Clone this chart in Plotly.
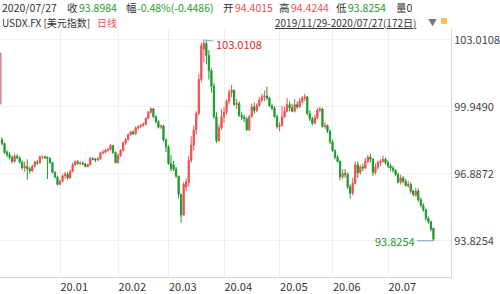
import plotly.graph_objects as go

# ---- data (USDX daily, 2019/11/29 - 2020/07/27, 172 bars) ----
dec_o = [98.45,98.27,97.86,97.76,97.64,97.45,97.70,97.62,97.42,97.16,97.22,97.12,97.02,97.22,97.42,97.38,97.66,97.67,97.65,97.60,97.40,96.96,96.74]
dec_h = [98.56,98.32,97.98,97.88,97.72,97.80,97.78,97.68,97.50,97.45,97.55,97.20,97.30,97.48,97.52,97.72,97.74,97.72,97.68,97.64,97.44,97.00,96.80]
dec_l = [98.18,97.80,97.64,97.55,97.36,97.40,97.55,97.35,97.08,96.98,96.62,96.92,96.98,97.18,97.30,97.36,97.56,97.56,96.65,97.34,96.90,96.68,96.36]
dec_c = [98.27,97.86,97.76,97.64,97.45,97.70,97.62,97.42,97.16,97.22,97.12,97.02,97.22,97.42,97.38,97.66,97.67,97.62,97.60,97.40,96.96,96.74,96.40]

jan_o = [96.40,96.55,96.80,96.88,96.70,97.00,97.30,97.44,97.36,97.38,97.34,97.22,97.30,97.60,97.56,97.52,97.58,97.84,97.88,97.96,98.00,98.18,97.86]
jan_h = [96.62,96.86,96.98,96.98,97.08,97.40,97.50,97.52,97.46,97.45,97.38,97.36,97.66,97.64,97.62,97.66,97.90,97.98,98.02,98.08,98.25,98.22,97.92]
jan_l = [96.38,96.50,96.66,96.60,96.65,96.95,97.25,97.30,97.28,97.28,97.18,97.18,97.26,97.50,97.42,97.46,97.52,97.78,97.82,97.90,97.96,97.80,97.36]
jan_c = [96.55,96.80,96.88,96.70,97.00,97.30,97.44,97.36,97.38,97.34,97.22,97.30,97.60,97.56,97.52,97.58,97.84,97.88,97.96,98.00,98.18,97.86,97.40]

feb_o = [97.40,97.72,97.96,98.30,98.46,98.68,98.80,98.72,98.98,99.06,99.10,99.16,99.42,99.70,99.86,99.50,99.28,99.02,99.08,98.44]
feb_h = [97.82,98.02,98.36,98.52,98.74,98.86,98.88,99.06,99.12,99.16,99.24,99.48,99.76,99.92,99.90,99.56,99.34,99.14,99.14,98.50]
feb_l = [97.36,97.66,97.92,98.22,98.40,98.62,98.66,98.68,98.90,98.98,99.04,99.10,99.38,99.62,99.45,99.20,98.96,98.94,98.36,97.88]
feb_c = [97.72,97.96,98.30,98.46,98.68,98.80,98.72,98.98,99.06,99.10,99.16,99.42,99.70,99.86,99.50,99.28,99.02,99.08,98.44,98.12]

mar_o = [98.12,97.36,97.30,97.10,96.78,95.95,95.00,96.28,96.50,97.50,98.20,98.90,99.65,101.20,102.60,102.85,102.30,101.60,100.90,99.50,98.40,99.00]
mar_h = [98.20,97.74,97.48,97.20,96.80,95.95,96.50,96.68,97.72,98.60,99.10,99.75,101.45,102.90,103.0108,102.99,102.55,101.70,101.05,99.70,99.15,99.85]
mar_l = [97.30,97.00,97.02,96.70,95.75,94.65,94.95,96.10,96.30,97.40,97.95,98.70,99.55,101.10,102.00,101.90,101.20,100.60,99.40,98.30,98.35,98.90]
mar_c = [97.36,97.12,97.10,96.78,95.95,95.00,96.40,96.52,97.50,98.20,98.90,99.65,101.20,102.75,102.85,102.30,101.60,100.90,99.50,98.40,99.00,99.50]

apr_o = [99.50,99.70,100.20,100.60,100.70,100.05,100.10,99.55,99.48,99.40,98.90,99.50,99.95,99.78,100.02,100.25,100.40,100.45,100.35,100.00,99.88,99.50]
apr_h = [99.95,100.30,100.75,100.95,100.75,100.30,100.20,99.70,99.60,99.50,99.60,100.10,100.15,100.12,100.40,100.55,100.70,100.88,100.40,100.10,99.98,99.60]
apr_l = [99.20,99.60,100.05,100.40,100.00,99.85,99.50,99.35,99.25,98.85,98.85,99.45,99.65,99.70,99.95,100.15,100.20,100.25,99.95,99.80,99.45,98.95]
apr_c = [99.70,100.20,100.60,100.70,100.05,100.10,99.55,99.48,99.40,98.90,99.50,99.95,99.78,100.02,100.25,100.40,100.45,100.35,100.00,99.88,99.50,99.05]

may_o = [99.05,99.10,99.50,99.75,100.05,99.90,99.75,100.05,99.95,100.20,100.35,100.40,99.65,99.40,99.20,99.45,99.80,99.85,99.05,99.10,98.85]
may_h = [99.25,100.00,99.95,100.35,100.20,100.10,100.30,100.20,100.35,100.45,100.55,100.45,99.80,99.50,99.60,99.90,99.95,99.90,99.25,99.15,98.90]
may_l = [98.85,99.05,99.45,99.70,99.75,99.70,99.70,99.85,99.90,100.10,100.20,99.55,99.30,99.10,99.15,99.40,99.70,99.00,98.95,98.75,98.25]
may_c = [99.10,99.50,99.75,100.05,99.90,99.75,100.05,99.95,100.20,100.35,100.40,99.65,99.40,99.20,99.45,99.80,99.85,99.05,99.10,98.85,98.35]

jun_o = [98.35,97.95,97.65,97.45,96.75,96.90,96.85,96.30,96.00,96.45,97.30,96.95,97.20,97.15,97.45,97.65,97.55,96.95,97.20,97.40,97.45,97.55]
jun_h = [98.45,98.00,97.75,97.50,97.10,97.10,96.95,96.40,96.70,97.45,97.45,97.30,97.35,97.60,97.75,97.80,97.60,97.35,97.50,97.55,97.72,97.62]
jun_l = [97.90,97.55,97.40,96.60,96.65,96.70,96.20,95.75,95.90,96.40,96.70,96.85,97.00,97.10,97.35,97.40,96.80,96.85,97.10,97.25,97.40,97.30]
jun_c = [97.95,97.65,97.45,96.75,96.90,96.85,96.30,96.00,96.45,97.30,96.95,97.20,97.15,97.45,97.65,97.55,96.95,97.20,97.40,97.45,97.55,97.40]

jul_o = [97.40,97.25,97.15,97.05,96.85,96.50,96.70,96.55,96.35,96.40,96.10,95.90,96.10,95.70,95.45,95.25,94.85,94.70,94.4015]
jul_h = [97.50,97.35,97.25,97.10,96.95,96.85,96.80,96.65,96.55,96.50,96.15,96.25,96.20,95.80,95.55,95.30,94.95,94.75,94.4244]
jul_l = [97.15,97.00,96.95,96.80,96.45,96.40,96.45,96.30,96.25,96.00,95.85,95.85,95.60,95.35,95.15,94.75,94.60,94.25,93.8254]
jul_c = [97.25,97.15,97.05,96.85,96.50,96.70,96.55,96.35,96.40,96.10,95.95,96.10,95.70,95.45,95.25,94.85,94.70,94.35,93.8984]

month_ticks = [23, 46, 66, 88, 110, 131, 153]
month_labels = ["20.01", "20.02", "20.03", "20.04", "20.05", "20.06", "20.07"]
y_ticks = [93.8254, 96.8872, 99.9490, 103.0108]
y_labels = ["93.8254", "96.8872", "99.9490", "103.0108"]
high_val, high_idx = 103.0108, 80
low_val, low_idx = 93.8254, 171

opens = dec_o + jan_o + feb_o + mar_o + apr_o + may_o + jun_o + jul_o
highs = dec_h + jan_h + feb_h + mar_h + apr_h + may_h + jun_h + jul_h
lows = dec_l + jan_l + feb_l + mar_l + apr_l + may_l + jun_l + jul_l
closes = dec_c + jan_c + feb_c + mar_c + apr_c + may_c + jun_c + jul_c
xs = list(range(len(closes)))

RED = "#ee4f4f"
GREEN = "#1f9a2c"
TXT = "#333333"
FONT = "Noto Sans CJK SC"

W, H = 500, 294
ML, MR, MT, MB = 0, 49, 29, 15
PW, PH = W - ML - MR, H - MT - MB


def px(xp):
    return (xp - ML) / PW


def py(yp):
    return (H - MB - yp) / PH


fig = go.Figure()
fig.add_trace(go.Candlestick(
    x=xs, open=opens, high=highs, low=lows, close=closes,
    increasing=dict(line=dict(color=RED, width=1), fillcolor=RED),
    decreasing=dict(line=dict(color=GREEN, width=1), fillcolor=GREEN),
    whiskerwidth=0, hoverinfo="skip",
))

ann = []


def label(x, y, text, color=TXT, size=10.5):
    ann.append(dict(x=px(x), y=py(y), xref="paper", yref="paper", text=text,
                    showarrow=False, xanchor="left", yanchor="middle",
                    font=dict(family=FONT, size=size, color=color), borderpad=0))


# header line 1
label(1, 7, "2020/07/27")
label(66, 7, "收")
label(78, 7, f"{closes[-1]:.4f}", GREEN)
label(125, 7, "幅")
label(136, 7, "-0.48%(-0.4486)", GREEN)
label(222, 7, "开")
label(234, 7, f"{opens[-1]:.4f}", RED)
label(278, 7, "高")
label(290, 7, f"{highs[-1]:.4f}", RED)
label(335, 7, "低")
label(347, 7, f"{lows[-1]:.4f}", GREEN)
label(395, 7, "量0")
# header line 2
label(1, 22, "USDX.FX [美元指数]", TXT, 10)
label(96, 22, "日线", RED, 10)
label(274, 22, "<u>2019/11/29-2020/07/27(172日)</u>", TXT, 10)
label(427, 22, "▼", "#777777", 9)

# high / low markers
ann.append(dict(x=high_idx + 4.2, y=high_val - 0.2, xref="x", yref="y", text=f"{high_val:.4f}",
                showarrow=False, xanchor="left", yanchor="middle",
                font=dict(family=FONT, size=11, color="#d62a2a")))
ann.append(dict(x=low_idx - 6.6, y=low_val, xref="x", yref="y", text=f"{low_val:.4f}",
                showarrow=False, xanchor="right", yanchor="middle",
                font=dict(family=FONT, size=11, color=GREEN)))

shapes = [
    dict(type="line", xref="x", yref="y", x0=high_idx, x1=high_idx + 3.8, y0=high_val, y1=high_val - 0.05,
         line=dict(color="#86a9c6", width=1)),
    dict(type="line", xref="x", yref="y", x0=low_idx - 6.4, x1=low_idx, y0=low_val, y1=low_val,
         line=dict(color="#6f9fd0", width=1)),
    # left edge marker
    dict(type="line", xref="paper", yref="paper", x0=px(0.8), x1=px(0.8), y0=py(53), y1=py(105),
         line=dict(color="#c98a8a", width=1.5)),
    # lock icon
    dict(type="rect", xref="paper", yref="paper", x0=px(441), x1=px(447), y0=py(24), y1=py(18),
         line=dict(width=0), fillcolor="#f2c14e"),
]

fig.update_layout(
    width=W, height=H,
    margin=dict(l=ML, r=MR, t=MT, b=MB),
    paper_bgcolor="white", plot_bgcolor="white",
    showlegend=False,
    annotations=ann, shapes=shapes,
    font=dict(family=FONT, size=11, color=TXT),
    xaxis=dict(
        range=[-0.79, 177.96], rangeslider=dict(visible=False),
        tickvals=month_ticks, ticktext=month_labels,
        ticklabelposition="outside right",
        showgrid=True, gridcolor="#efefef", gridwidth=1,
        showline=True, linecolor="#d9d9d9", linewidth=1,
        ticks="", zeroline=False, fixedrange=True,
        tickfont=dict(family=FONT, size=11, color=TXT),
    ),
    yaxis=dict(
        side="right", range=[92.17, 103.51],
        tickvals=y_ticks, ticktext=y_labels,
        showgrid=True, gridcolor="#efefef", gridwidth=1,
        showline=True, linecolor="#d9d9d9", linewidth=1,
        ticks="", zeroline=False, fixedrange=True,
        tickfont=dict(family=FONT, size=11, color="#444444"),
    ),
)

fig.write_html("out.html")
